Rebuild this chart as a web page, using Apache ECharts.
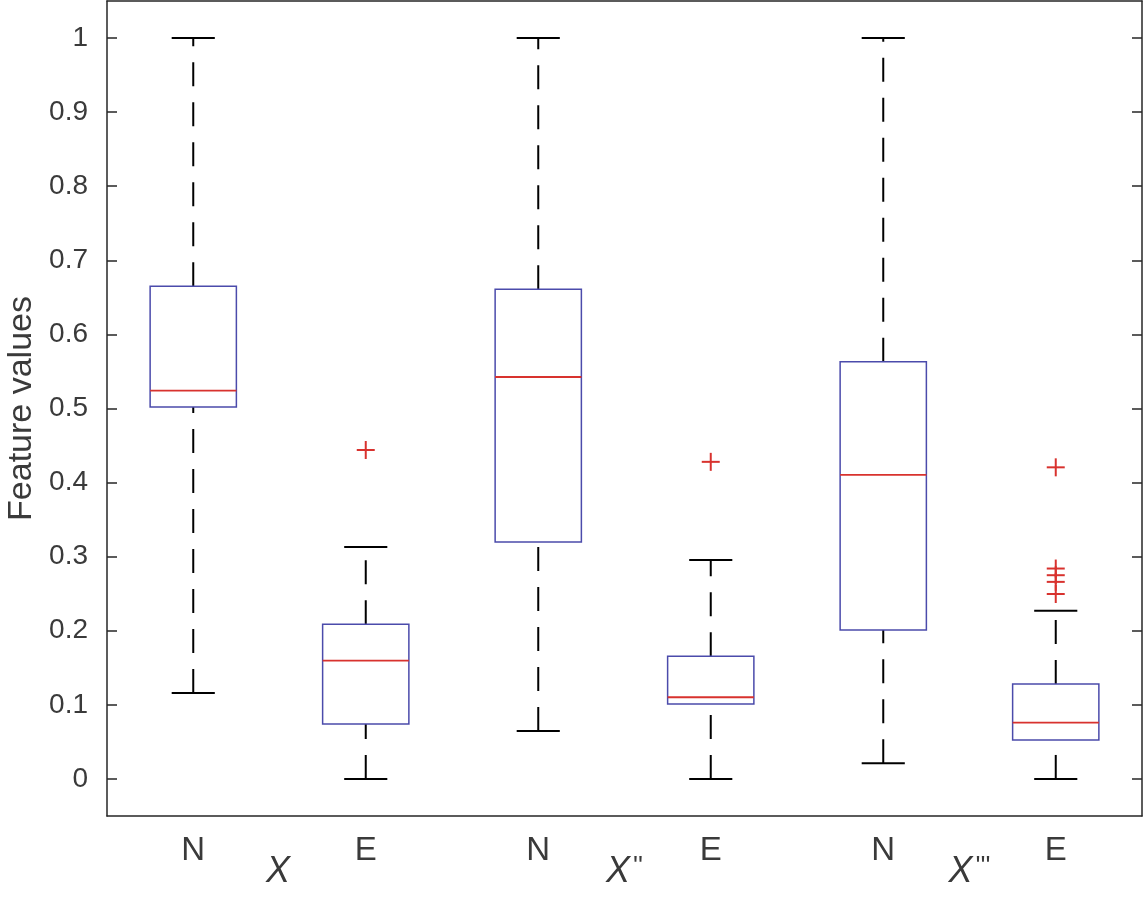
<!DOCTYPE html>
<html>
<head>
<meta charset="utf-8">
<script src="https://cdn.jsdelivr.net/npm/echarts@6/dist/echarts.min.js"></script>
<style>
html,body{margin:0;padding:0;background:#fff;}
#chart{width:1144px;height:908px;}
</style>
</head>
<body>
<div id="chart"></div>
<script>
// ---- data ----
const categories = ['N', 'E', 'N', 'E', 'N', 'E'];
const groupLabels = ['X', "X''", "X'''"];
const yTicks = [0, 0.1, 0.2, 0.3, 0.4, 0.5, 0.6, 0.7, 0.8, 0.9, 1];
// [lower whisker, Q1, median, Q3, upper whisker]
const lowerWhisker = [0.116, 0, 0.0648, 0, 0.0211, 0];
const q1Values     = [0.502, 0.0742, 0.3198, 0.101, 0.2011, 0.0526];
const medianValues = [0.524, 0.1596, 0.5425, 0.1103, 0.4103, 0.076];
const q3Values     = [0.665, 0.2088, 0.661, 0.1656, 0.5632, 0.128];
const upperWhisker = [1.0, 0.313, 1.0, 0.2955, 1.0, 0.227];
// outliers: [category index, value]
const outliers = [
  [1, 0.444],
  [3, 0.428],
  [5, 0.4206], [5, 0.284], [5, 0.275], [5, 0.266], [5, 0.2496]
];

const boxData = categories.map((c, i) => [i, lowerWhisker[i], q1Values[i], medianValues[i], q3Values[i], upperWhisker[i]]);

const axisColor = '#262626';
const textColor = '#3a3a3a';
const fontFamily = '"Liberation Sans", Arial, Helvetica, sans-serif';
const narrowFamily = '"Liberation Sans Narrow", "Liberation Sans", Arial, sans-serif';

const chart = echarts.init(document.getElementById('chart'), null, {renderer: 'canvas'});

function renderBox(params, api) {
  const idx = api.value(0);
  const lo = api.value(1), q1 = api.value(2), med = api.value(3), q3 = api.value(4), hi = api.value(5);
  const band = api.size([1, 0])[0];
  const x = api.coord([idx, 0])[0];
  const yLo = api.coord([idx, lo])[1];
  const yQ1 = api.coord([idx, q1])[1];
  const yMed = api.coord([idx, med])[1];
  const yQ3 = api.coord([idx, q3])[1];
  const yHi = api.coord([idx, hi])[1];
  const boxW = band * 0.5;
  const capW = band * 0.25;
  const whiskerStyle = {stroke: '#000', lineWidth: 2, lineDash: [24, 16], fill: null};
  const capStyle = {stroke: '#000', lineWidth: 2, fill: null};
  return {
    type: 'group',
    children: [
      {type: 'line', shape: {x1: x, y1: yLo, x2: x, y2: yQ1}, style: whiskerStyle},
      {type: 'line', shape: {x1: x, y1: yQ3, x2: x, y2: yHi}, style: whiskerStyle},
      {type: 'line', shape: {x1: x - capW / 2, y1: yLo, x2: x + capW / 2, y2: yLo}, style: capStyle},
      {type: 'line', shape: {x1: x - capW / 2, y1: yHi, x2: x + capW / 2, y2: yHi}, style: capStyle},
      {type: 'rect', shape: {x: x - boxW / 2, y: yQ3, width: boxW, height: yQ1 - yQ3},
        style: {fill: null, stroke: '#4b4bab', lineWidth: 1.5}},
      {type: 'line', shape: {x1: x - boxW / 2, y1: yMed, x2: x + boxW / 2, y2: yMed},
        style: {stroke: '#d8322e', lineWidth: 1.8}}
    ]
  };
}

function renderOutlier(params, api) {
  const p = api.coord([api.value(0), api.value(1)]);
  const s = 9;
  const st = {stroke: '#d8322e', lineWidth: 2, fill: null};
  return {
    type: 'group',
    children: [
      {type: 'line', shape: {x1: p[0] - s, y1: p[1], x2: p[0] + s, y2: p[1]}, style: st},
      {type: 'line', shape: {x1: p[0], y1: p[1] - s, x2: p[0], y2: p[1] + s}, style: st}
    ]
  };
}

const option = {
  backgroundColor: '#fff',
  animation: false,
  grid: {left: 107, right: 2, top: 1, bottom: 92, containLabel: false, outerBoundsMode: 'none'},
  xAxis: [
    {
      type: 'category', data: categories, position: 'bottom',
      axisLine: {onZero: false, lineStyle: {color: axisColor, width: 1.5}},
      axisTick: {inside: true, alignWithLabel: true, length: 10, lineStyle: {color: axisColor, width: 1.5}},
      axisLabel: {color: textColor, fontSize: 33, fontFamily: narrowFamily, margin: 18}
    },
    {
      type: 'category', data: categories, position: 'top',
      axisLine: {onZero: false, lineStyle: {color: axisColor, width: 1.5}},
      axisTick: {inside: true, alignWithLabel: true, length: 10, lineStyle: {color: axisColor, width: 1.5}},
      axisLabel: {show: false}
    },
    {
      type: 'category', data: groupLabels, position: 'bottom',
      axisLine: {show: false, onZero: false}, axisTick: {show: false},
      axisLabel: {
        color: textColor, fontFamily: narrowFamily, margin: 38,
        formatter: function (v) { return '{i|X}{p|' + v.slice(1) + '}'; },
        rich: {
          i: {fontSize: 36, fontStyle: 'italic', color: textColor, fontFamily: narrowFamily},
          p: {fontSize: 26, color: textColor, fontFamily: narrowFamily, verticalAlign: 'top', padding: [0, 0, 10, 3]}
        }
      }
    }
  ],
  yAxis: [
    {
      type: 'value', min: -0.05, max: 1.05, position: 'left',
      name: 'Feature values', nameLocation: 'middle', nameGap: 68,
      nameTextStyle: {color: textColor, fontSize: 34, fontFamily: fontFamily},
      splitLine: {show: false},
      axisLine: {show: true, onZero: false, lineStyle: {color: axisColor, width: 1.5}},
      axisTick: {show: true, inside: true, length: 10, customValues: yTicks, lineStyle: {color: axisColor, width: 1.5}},
      axisLabel: {color: textColor, fontSize: 28, fontFamily: fontFamily, margin: 19, customValues: yTicks,
        formatter: function (v) { return String(Math.round(v * 10) / 10); }}
    },
    {
      type: 'value', min: -0.05, max: 1.05, position: 'right',
      splitLine: {show: false},
      axisLine: {show: true, onZero: false, lineStyle: {color: axisColor, width: 1.5}},
      axisTick: {show: true, inside: true, length: 10, customValues: yTicks, lineStyle: {color: axisColor, width: 1.5}},
      axisLabel: {show: false}
    }
  ],
  series: [
    {type: 'custom', xAxisIndex: 0, yAxisIndex: 0, renderItem: renderBox, data: boxData, encode: {x: 0, y: [1, 2, 3, 4, 5]}, clip: false},
    {type: 'custom', xAxisIndex: 0, yAxisIndex: 0, renderItem: renderOutlier, data: outliers, encode: {x: 0, y: 1}, clip: false}
  ]
};
chart.setOption(option);
</script>
</body>
</html>
